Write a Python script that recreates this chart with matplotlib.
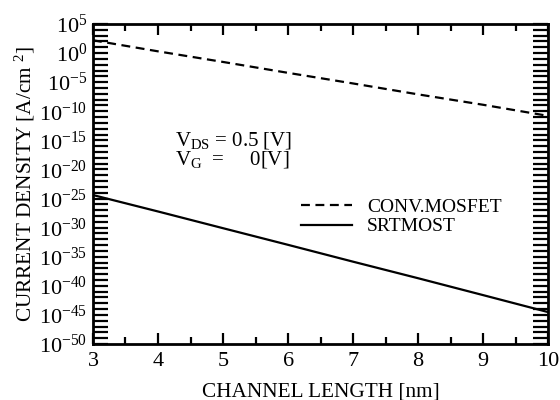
import math

import matplotlib
matplotlib.use("Agg")
import matplotlib.pyplot as plt
from matplotlib.ticker import FixedLocator, FuncFormatter, NullFormatter

# channel length [nm] and current density [A/cm^2]
channel_length = [3, 4, 5, 6, 7, 8, 9, 10]
conv_mosfet = [1.6e2, 2e0, 3e-2, 4e-4, 6e-6, 8e-8, 1.3e-9, 1.6e-11]
srtmost = [4e-25, 6e-28, 8e-31, 1.1e-33, 1.4e-36, 2e-39, 2.5e-42, 3e-45]

y_major_exp = [5, 0, -5, -10, -15, -20, -25, -30, -35, -40, -45, -50]

plt.rcParams["font.family"] = ["Liberation Serif", "DejaVu Serif"]
plt.rcParams["mathtext.fontset"] = "custom"
plt.rcParams["mathtext.rm"] = "Liberation Serif"
plt.rcParams["mathtext.it"] = "Liberation Serif"
plt.rcParams["mathtext.default"] = "regular"

fig = plt.figure(figsize=(5.6, 4.0), dpi=100)
ax = fig.add_axes([0.166, 0.14, 0.813, 0.80])

ax.plot(channel_length, conv_mosfet, color="black", lw=1.6,
        dashes=(4, 2.5), label="CONV.MOSFET")
ax.plot(channel_length, srtmost, color="black", lw=1.6, label="SRTMOST")

ax.set_yscale("log")
ax.set_xlim(3, 10)
ax.set_ylim(1e-50, 1e5)

ax.set_xticks(range(3, 11))
ax.set_xticks([x + 0.5 for x in range(3, 10)], minor=True)
ax.yaxis.set_major_locator(FixedLocator([10.0 ** e for e in y_major_exp]))
ax.yaxis.set_minor_locator(FixedLocator([10.0 ** e for e in range(-50, 6)]))
ax.yaxis.set_major_formatter(
    FuncFormatter(lambda v, p: "$10^{%d}$" % round(math.log10(v))))
ax.yaxis.set_minor_formatter(NullFormatter())

ax.tick_params(axis="both", which="both", direction="in", top=True, right=True,
               width=1.6, labelsize=16)
ax.tick_params(axis="x", which="major", length=8, pad=6)
ax.tick_params(axis="x", which="minor", length=5)
ax.tick_params(axis="y", which="both", length=11, pad=4)
for s in ax.spines.values():
    s.set_linewidth(2)

ax.set_xlabel("CHANNEL LENGTH [nm]", fontsize=15.3, labelpad=8)
ax.set_ylabel("CURRENT DENSITY [A/cm $^{2}$]", fontsize=15.3, labelpad=2)

ax.text(0.18, 0.62, "V$_{DS}$ = 0.5 [V]", transform=ax.transAxes, fontsize=15)
ax.text(0.18, 0.56, "V$_{G}$  =     0[V]", transform=ax.transAxes, fontsize=15)

ax.legend(loc="upper left", bbox_to_anchor=(0.44, 0.48), frameon=False,
          fontsize=14, handlelength=2.6, handletextpad=0.8, labelspacing=0.1,
          borderaxespad=0)

fig.savefig("out.png", dpi=100)
